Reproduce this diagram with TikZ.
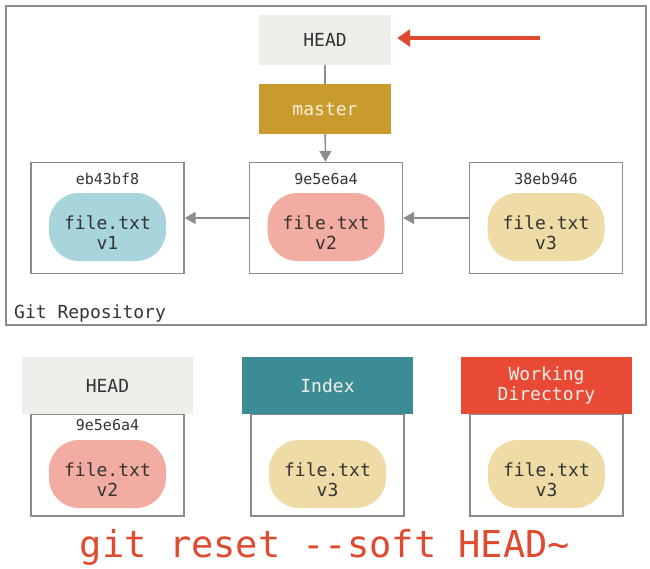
\documentclass[tikz,border=0pt]{standalone}
\usepackage{fontspec}
\setmonofont{DejaVu Sans Mono}
\usetikzlibrary{arrows.meta, positioning}
\definecolor{headgray}{HTML}{EFEEEA}
\definecolor{mastergold}{HTML}{C99B2C}
\definecolor{mastertext}{HTML}{F6EFDA}
\definecolor{blobblue}{HTML}{A8D4DC}
\definecolor{blobpink}{HTML}{F2ACA2}
\definecolor{blobtan}{HTML}{EEDBA6}
\definecolor{indexteal}{HTML}{3B8C95}
\definecolor{wdred}{HTML}{E84A35}
\definecolor{lighttext}{HTML}{F4EFE8}
\definecolor{cmdred}{HTML}{E04A30}
\definecolor{boxgray}{HTML}{8C8C8C}
\definecolor{inkgray}{HTML}{333333}

\begin{document}
\begin{tikzpicture}[x=1pt, y=-1pt,
  every node/.style={font=\ttfamily\fontsize{18}{20}\selectfont, text=inkgray, inner sep=0pt},
  labelbox/.style={minimum width=132pt, minimum height=50pt},
  areabox/.style={minimum width=171pt, minimum height=57pt, align=center},
  commit/.style={draw=boxgray, line width=1.3pt, minimum width=153pt},
  blob/.style={rounded corners=30pt, minimum width=117pt, minimum height=68pt},
  blobtext/.style={align=center},
  hash/.style={font=\ttfamily\fontsize{15}{18}\selectfont},
  link/.style={draw=boxgray, line width=1.6pt, -{Triangle[length=11pt,width=12pt]}},
  pointer/.style={draw=cmdred, line width=4.5pt, -{Triangle[length=13pt,width=17pt]}}
]
\useasboundingbox (0,0) rectangle (650,568);
% repository frame
\draw[boxgray, line width=1.5pt] (6,6) rectangle (646,325);
\node[anchor=base west] (repo) at (14,318) {Git Repository};
% refs
\node[labelbox, fill=headgray] (head) at (325,40) {HEAD};
\node[labelbox, fill=mastergold, text=mastertext] (master) at (325,109) {master};
\coordinate (tail) at (540,38);
\draw[pointer] (tail) -- ([xshift=6pt]head.east |- tail);
\draw[boxgray, line width=1.3pt] (head) -- (master);
% commits
\foreach \n/\x/\h/\c/\v in {ca/107.5/eb43bf8/blobblue/1, cb/326/9e5e6a4/blobpink/2, cc/546/38eb946/blobtan/3}{
  \node[commit, minimum height=111pt] (\n) at (\x,218) {};
  \node[hash] (h\n) at (\x,179) {\h};
  \node[blob, fill=\c] (b\n) at (\x,227) {};
  \node[blobtext] (t\n) at (\x,233) {file.txt\\v\v};
}
\draw[link] (master) -- (cb);
\draw[link] (cb) -- (ca);
\draw[link] (cc) -- (cb);
% the three trees
\foreach \n/\x/\f/\t/\c/\v/\txt in {hd/107.5/headgray/inkgray/blobpink/2/HEAD,
    ix/327.5/indexteal/lighttext/blobtan/3/Index,
    wd/546.5/wdred/lighttext/blobtan/3/{Working\\Directory}}{
  \node[commit, minimum height=102pt] (w\n) at (\x,465) {};
  \node[areabox, fill=\f, text=\t] (a\n) at (\x,385.5) {\txt};
  \node[blob, fill=\c] (f\n) at (\x,474) {};
  \node[blobtext] (g\n) at (\x,480) {file.txt\\v\v};
}
\node[hash] (hhd) at (107.5,425) {9e5e6a4};
\node[font=\ttfamily\fontsize{37}{40}\selectfont, text=cmdred, anchor=base] (cmd) at (325,557)
  {git reset -{}-soft HEAD\textasciitilde};
\end{tikzpicture}
\end{document}
